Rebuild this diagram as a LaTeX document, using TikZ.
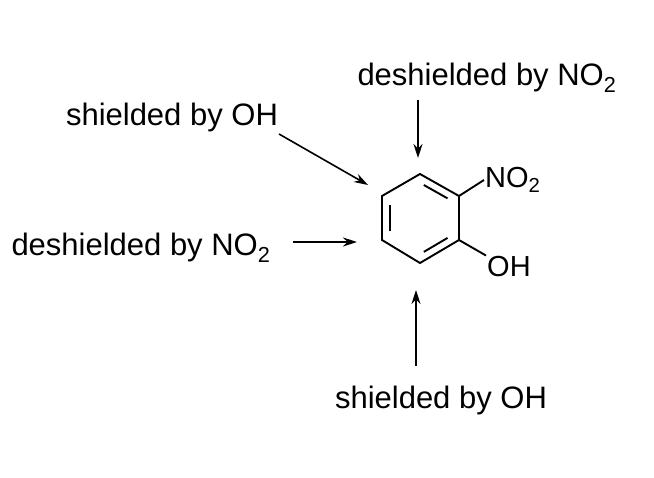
\documentclass[tikz,border=0pt]{standalone}
\usepackage{fontspec}
\setmainfont{Liberation Sans}
\usetikzlibrary{calc,arrows.meta}
\begin{document}
\begin{tikzpicture}[x=1pt,y=-1pt,
  lbl/.style={font=\fontsize{31}{36}\selectfont, inner sep=0pt},
  atom/.style={font=\fontsize{29}{34}\selectfont, inner sep=1pt},
  bond/.style={line width=1.9pt},
  arr/.style={line width=1.6pt,-{Stealth[length=14pt,width=9pt]}}]
\useasboundingbox (0,0) rectangle (654,478);
% ring
\coordinate (a1) at (420,174);
\coordinate (a2) at (459,196);
\coordinate (a3) at (459,240);
\coordinate (a4) at (420,263);
\coordinate (a5) at (382,240);
\coordinate (a6) at (382,196);
\coordinate (c) at (420.5,218.5);
\foreach \i in {1,...,6}{\coordinate (b\i) at ($(c)!0.8!(a\i)$);}
\draw[bond,line join=miter] (a1)--(a2)--(a3)--(a4)--(a5)--(a6)--cycle;
\draw[bond] ($(b1)!0.12!(b2)$) -- ($(b1)!0.88!(b2)$);
\draw[bond] ($(b5)!0.12!(b6)$) -- ($(b5)!0.88!(b6)$);
\draw[bond] ($(b3)!0.12!(b4)$) -- ($(b3)!0.88!(b4)$);
% substituents
\node[atom,anchor=west] (no2) at (484,180) {NO\textsubscript{2}};
\node[atom,anchor=west] (oh) at (486,267) {OH};
\draw[bond] (a2) -- (no2.west);
\draw[bond] (a3) -- (oh.north west);
% labels
\node[lbl] (t1) at (487,78) {deshielded by NO\textsubscript{2}};
\node[lbl] (t2) at (172,117) {shielded by OH};
\node[lbl] (t3) at (141,248) {deshielded by NO\textsubscript{2}};
\node[lbl] (t4) at (441,400) {shielded by OH};
\coordinate (p1) at (418,158);
\coordinate (p2) at (368,185);
\coordinate (p3) at (357,242);
\coordinate (p4) at (416,290);
\coordinate (s1) at (418,100);
\coordinate (s2) at (279,134);
\coordinate (s3) at (293,242);
\coordinate (s4) at (416,366);
\draw[arr] (s1) -- (p1);
\draw[arr] (s2) -- (p2);
\draw[arr] (s3) -- (p3);
\draw[arr] (s4) -- (p4);
\end{tikzpicture}
\end{document}
